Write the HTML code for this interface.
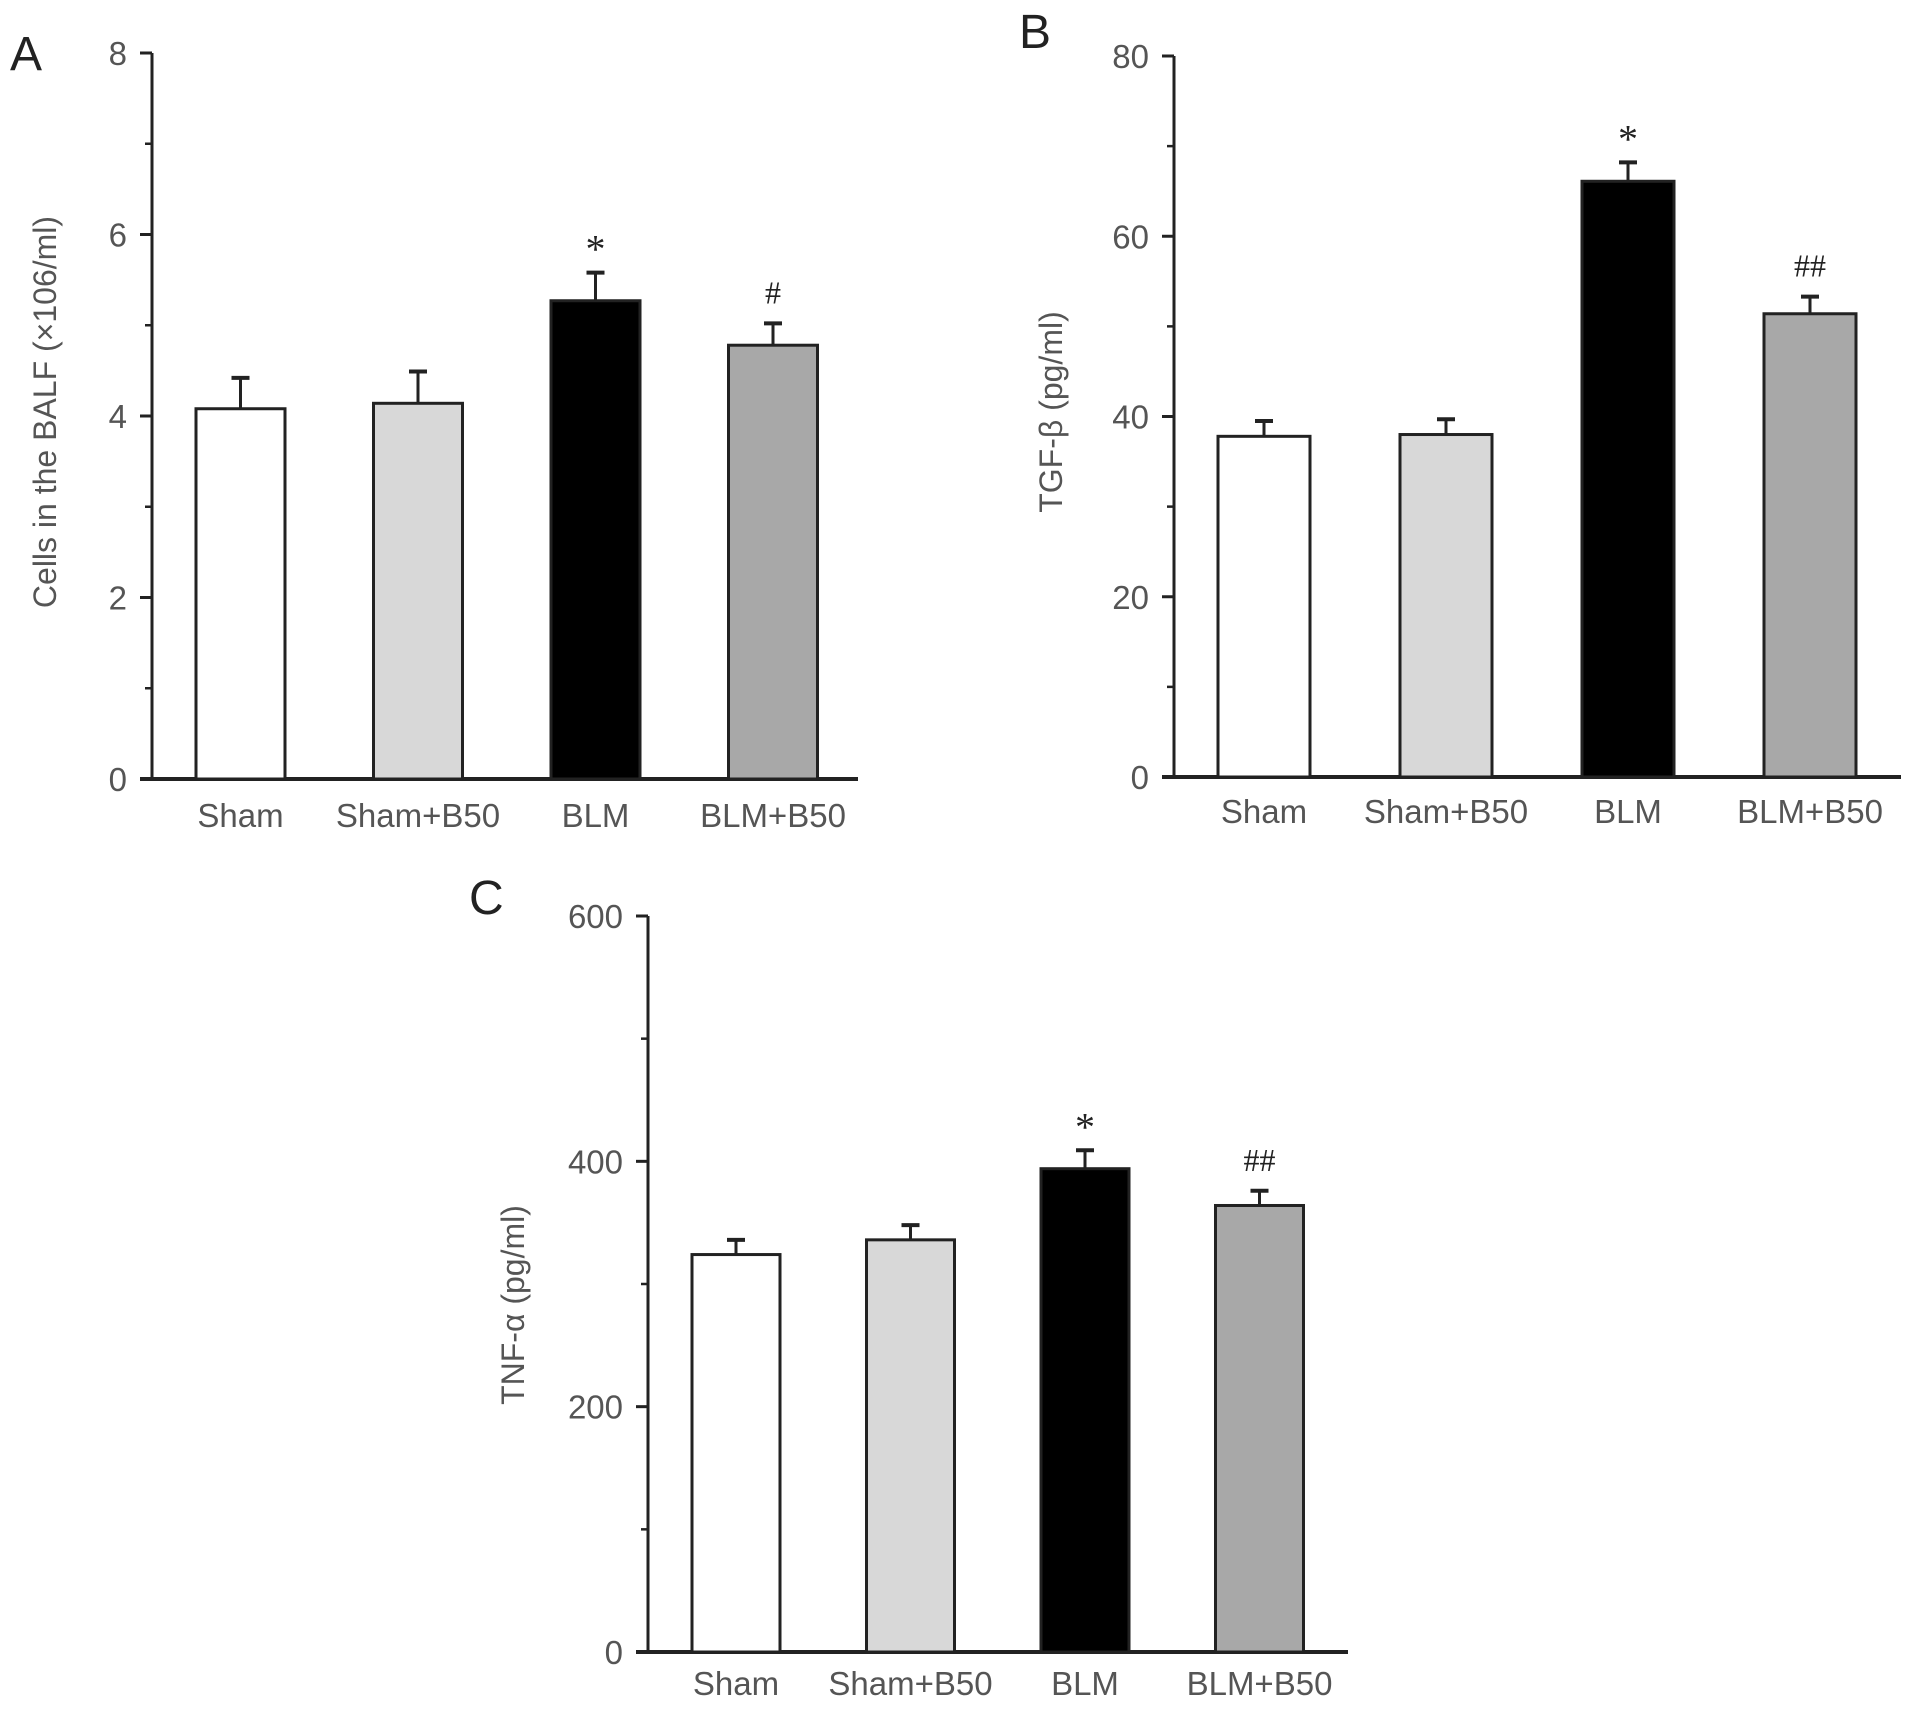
<!DOCTYPE html>
<html><head><meta charset="utf-8"><style>
html,body{margin:0;padding:0;background:#fff;}
svg{display:block;font-family:"Liberation Sans",Arial,sans-serif;}
</style></head><body>
<svg id="fig" width="1913" height="1709" viewBox="0 0 1913 1709" xmlns="http://www.w3.org/2000/svg"></svg>
<script>
const categories = ["Sham","Sham+B50","BLM","BLM+B50"];
const valuesA = [4.08, 4.14, 5.27, 4.78];
const errorsA = [0.34, 0.35, 0.31, 0.24];
const marksA = ["", "", "*", "#"];
const ticksA = [0, 2, 4, 6, 8];
const valuesB = [37.8, 38.0, 66.1, 51.4];
const errorsB = [1.7, 1.7, 2.1, 1.9];
const marksB = ["", "", "*", "##"];
const ticksB = [0, 20, 40, 60, 80];
const valuesC = [324, 336, 394, 364];
const errorsC = [12, 12, 15, 12];
const marksC = ["", "", "*", "##"];
const ticksC = [0, 200, 400, 600];

const NS = "http://www.w3.org/2000/svg";
const svg = document.getElementById('fig');
const fills = ["#ffffff", "#d8d8d8", "#000000", "#a8a8a8"];
function mk(tag, attrs, parent){
  const e = document.createElementNS(NS, tag);
  for (const k in attrs) e.setAttribute(k, attrs[k]);
  (parent||svg).appendChild(e);
  return e;
}
function panel(cfg){
  const g = mk('g', {});
  
  
  const max = cfg.ticks[cfg.ticks.length-1];
  const y = v => cfg.y0 - (v / max) * (cfg.y0 - cfg.yTop);
  const step = cfg.ticks[1] - cfg.ticks[0];
  const ya = mk('line', {x1:cfg.ax, y1:cfg.yTop, x2:cfg.ax, y2:cfg.y0, stroke:'#222', 'stroke-width':3}, g);
  
  
  const xa = mk('line', {x1:cfg.ax-12, y1:cfg.y0, x2:cfg.xEnd, y2:cfg.y0, stroke:'#222', 'stroke-width':4}, g);
  
  
  cfg.ticks.forEach((t, i) => {
    const tk = mk('line', {x1:cfg.ax-12, y1:y(t), x2:cfg.ax, y2:y(t), stroke:'#222', 'stroke-width':3}, g);
    
    
    const lb = mk('text', {x:cfg.ax-25, y:y(t)+12, 'text-anchor':'end', 'font-size':33, fill:'#555'}, g);
    lb.textContent = t;
    
    
    if (i < cfg.ticks.length-1) {
      const mt = mk('line', {x1:cfg.ax-7, y1:y(t+step/2), x2:cfg.ax, y2:y(t+step/2), stroke:'#222', 'stroke-width':2.5}, g);
      
      
    }
  });
  cfg.values.forEach((v, i) => {
    const x0 = cfg.barX0 + i*cfg.barStep;
    const cx = x0 + cfg.barW/2;
    const top = y(v), et = y(v + cfg.errors[i]);
    const el = mk('line', {x1:cx, y1:top, x2:cx, y2:et, stroke:'#222', 'stroke-width':3}, g);
    
    
    const cap = mk('line', {x1:cx-9, y1:et, x2:cx+9, y2:et, stroke:'#222', 'stroke-width':4}, g);
    
    
    const r = mk('rect', {x:x0, y:top, width:cfg.barW, height:cfg.y0-top, fill:fills[i], stroke:'#222', 'stroke-width':3}, g);
    
    
    if (cfg.marks[i]) {
      const star = cfg.marks[i]==='*';
      const m = mk('text', {x:cx, y:et - (star ? 10 : 20), 'text-anchor':'middle', 'font-size': star?40:32, fill:'#222', 'font-family':'"Liberation Serif",serif'}, g);
      m.textContent = cfg.marks[i];
      
      
    }
    const cl = mk('text', {x:cx, y:cfg.catY, 'text-anchor':'middle', 'font-size':33, fill:'#555'}, g);
    cl.textContent = categories[i];
    
    
  });
  const tt = mk('text', {x:0, y:0, 'text-anchor':'middle', 'font-size':32, fill:'#555', transform:`translate(${cfg.titleX},${cfg.titleY}) rotate(-90)`}, g);
  tt.textContent = cfg.title;
  
  
  const pl = mk('text', {x:cfg.letterX, y:cfg.letterY, 'font-size':48, fill:'#222'}, g);
  pl.textContent = cfg.letter;
  
  
}
panel({letter:'A', letterX:10, letterY:70, ax:152, yTop:53, y0:779, xEnd:858, ticks:ticksA, values:valuesA, errors:errorsA, marks:marksA,
  barX0:196, barW:89, barStep:177.5, catY:827, title:'Cells in the BALF (\u00d7106/ml)', titleX:56, titleY:412});
panel({letter:'B', letterX:1019, letterY:48, ax:1174, yTop:56, y0:777, xEnd:1901, ticks:ticksB, values:valuesB, errors:errorsB, marks:marksB,
  barX0:1218, barW:92, barStep:182, catY:823, title:'TGF-\u03b2 (pg/ml)', titleX:1062, titleY:412});
panel({letter:'C', letterX:469, letterY:914, ax:648, yTop:916, y0:1652, xEnd:1348, ticks:ticksC, values:valuesC, errors:errorsC, marks:marksC,
  barX0:692, barW:88, barStep:174.5, catY:1695, title:'TNF-\u03b1 (pg/ml)', titleX:524, titleY:1305});
</script>
</body></html>
